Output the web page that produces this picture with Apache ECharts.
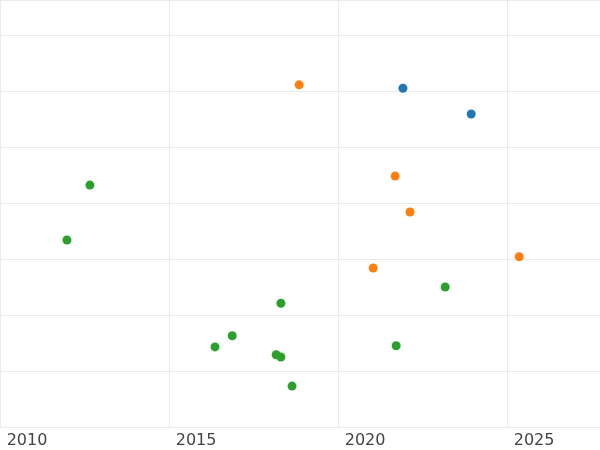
<!DOCTYPE html>
<html>
<head>
<meta charset="utf-8">
<script src="https://cdn.jsdelivr.net/npm/echarts@6/dist/echarts.min.js"></script>
<style>html,body{margin:0;padding:0;background:#fff}#c{width:600px;height:450px}</style>
</head>
<body>
<div id="c"></div>
<script>
const blue = [[2021.12, 6.05], [2023.14, 5.59]];
const orange = [[2018.05, 6.11], [2020.89, 4.48], [2021.33, 3.84], [2020.24, 2.84], [2024.56, 3.04]];
const green = [[2011.86, 4.32], [2011.18, 3.34], [2017.51, 2.21], [2022.37, 2.5], [2016.07, 1.63],
  [2015.56, 1.43], [2020.92, 1.45], [2017.37, 1.29], [2017.51, 1.25], [2017.84, 0.73]];
const colors = ['#1f77b4', '#ff7f0e', '#2ca02c'];

const chart = echarts.init(document.getElementById('c'));
chart.setOption({
  animation: false,
  grid: { left: 0, right: 0, top: 0, bottom: 23 },
  xAxis: {
    type: 'value', min: 2009.2, max: 2026.95, interval: 5,
    axisLine: { show: false }, axisTick: { show: false },
    axisLabel: {
      color: '#444', fontSize: 16, fontFamily: 'DejaVu Sans', margin: 6,
      formatter: v => (v % 5 === 0 ? String(v) : ''),
      customValues: [2010, 2015, 2020, 2025]
    },
    splitLine: { show: true, lineStyle: { color: '#ebebeb' } }
  },
  yAxis: {
    type: 'value', min: 0, max: 7.625, interval: 1,
    axisLine: { show: false }, axisTick: { show: false }, axisLabel: { show: false },
    splitLine: { lineStyle: { color: '#ebebeb' } }
  },
  series: [blue, orange, green].map((d, i) => ({
    type: 'scatter', data: d, symbolSize: 9, itemStyle: { color: colors[i], opacity: 1 }
  }))
});
</script>
</body>
</html>
